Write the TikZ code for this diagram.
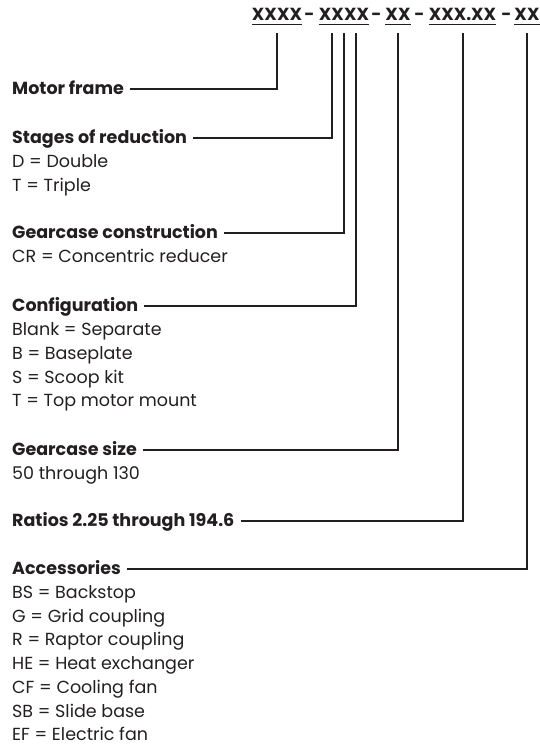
\documentclass[tikz,border=0pt]{standalone}
\usepackage{fontspec}
\setmainfont{Poppins}
\definecolor{ink}{HTML}{231F20}
\newcommand{\myfs}{\fontsize{17.5}{21}\selectfont}
\begin{document}
\begin{tikzpicture}[x=1pt,y=-1pt,
  lbl/.style={anchor=base west, inner sep=0pt, text=ink, font=\myfs\bfseries},
  item/.style={anchor=base west, inner sep=0pt, text=ink, font=\myfs},
  seg/.style={anchor=base, inner sep=0pt, text=ink, font=\myfs\bfseries},
  conn/.style={draw=ink, line width=1.6pt, line join=miter},
  uline/.style={draw=ink, line width=1pt}
]
\useasboundingbox (0,0) rectangle (540,747);
% header code
\node[seg] (s1) at (277,20) {XXXX};
\node[seg] (d1) at (309.5,20) {-};
\node[seg] (s2) at (344,20) {XXXX};
\node[seg] (d2) at (376.5,20) {-};
\node[seg] (s3) at (398,20) {XX};
\node[seg] (d3) at (419.5,20) {-};
\node[seg] (s4) at (462.5,20) {XXX.XX};
\node[seg] (d4) at (506.5,20) {-};
\node[seg] (s5) at (527,20) {XX};
\foreach \s in {s1,s2,s3,s4,s5}
  \draw[uline] ([yshift=-4pt]\s.base west) -- ([yshift=-4pt]\s.base east);
% tops of connectors
\coordinate (v1) at (277,33);
\coordinate (v2) at (332,33);
\coordinate (v3) at (344,33);
\coordinate (v4) at (356,33);
\coordinate (v5) at (398,33);
\coordinate (v6) at (463,33);
\coordinate (v7) at (527,33);
% labels
\node[lbl] (mf) at (12,94.5) {Motor frame};
\node[lbl] (sr) at (12,143.5) {Stages of reduction};
\node[item] (sr1) at (12,167) {D = Double};
\node[item] (sr2) at (12,191) {T = Triple};
\node[lbl] (gc) at (12,238.5) {Gearcase construction};
\node[item] (gc1) at (12,262.5) {CR = Concentric reducer};
\node[lbl] (cf) at (12,311.5) {Configuration};
\node[item] (cf1) at (12,335.5) {Blank = Separate};
\node[item] (cf2) at (12,359) {B = Baseplate};
\node[item] (cf3) at (12,383) {S = Scoop kit};
\node[item] (cf4) at (12,406.5) {T = Top motor mount};
\node[lbl] (gs) at (12,455.5) {Gearcase size};
\node[item] (gs1) at (12,479.5) {50 through 130};
\node[lbl] (ra) at (12,526.5) {Ratios 2.25 through 194.6};
\node[lbl] (ac) at (12,574.5) {Accessories};
\node[item] (ac1) at (12,598.25) {BS = Backstop};
\node[item] (ac2) at (12,622) {G = Grid coupling};
\node[item] (ac3) at (12,645.75) {R = Raptor coupling};
\node[item] (ac4) at (12,669.5) {HE = Heat exchanger};
\node[item] (ac5) at (12,693.25) {CF = Cooling fan};
\node[item] (ac6) at (12,717) {SB = Slide base};
\node[item] (ac7) at (12,740.75) {EF = Electric fan};
% connectors
\draw[conn] ([shift={(6pt,5.5pt)}]mf.base east) -| (v1);
\draw[conn] ([shift={(6pt,5.5pt)}]sr.base east) -| (v2);
\draw[conn] ([shift={(6pt,5.5pt)}]gc.base east) -| (v3);
\draw[conn] ([shift={(6pt,5.5pt)}]cf.base east) -| (v4);
\draw[conn] ([shift={(6pt,5.5pt)}]gs.base east) -| (v5);
\draw[conn] ([shift={(6pt,5.5pt)}]ra.base east) -| (v6);
\draw[conn] ([shift={(6pt,5.5pt)}]ac.base east) -| (v7);
\end{tikzpicture}
\end{document}
